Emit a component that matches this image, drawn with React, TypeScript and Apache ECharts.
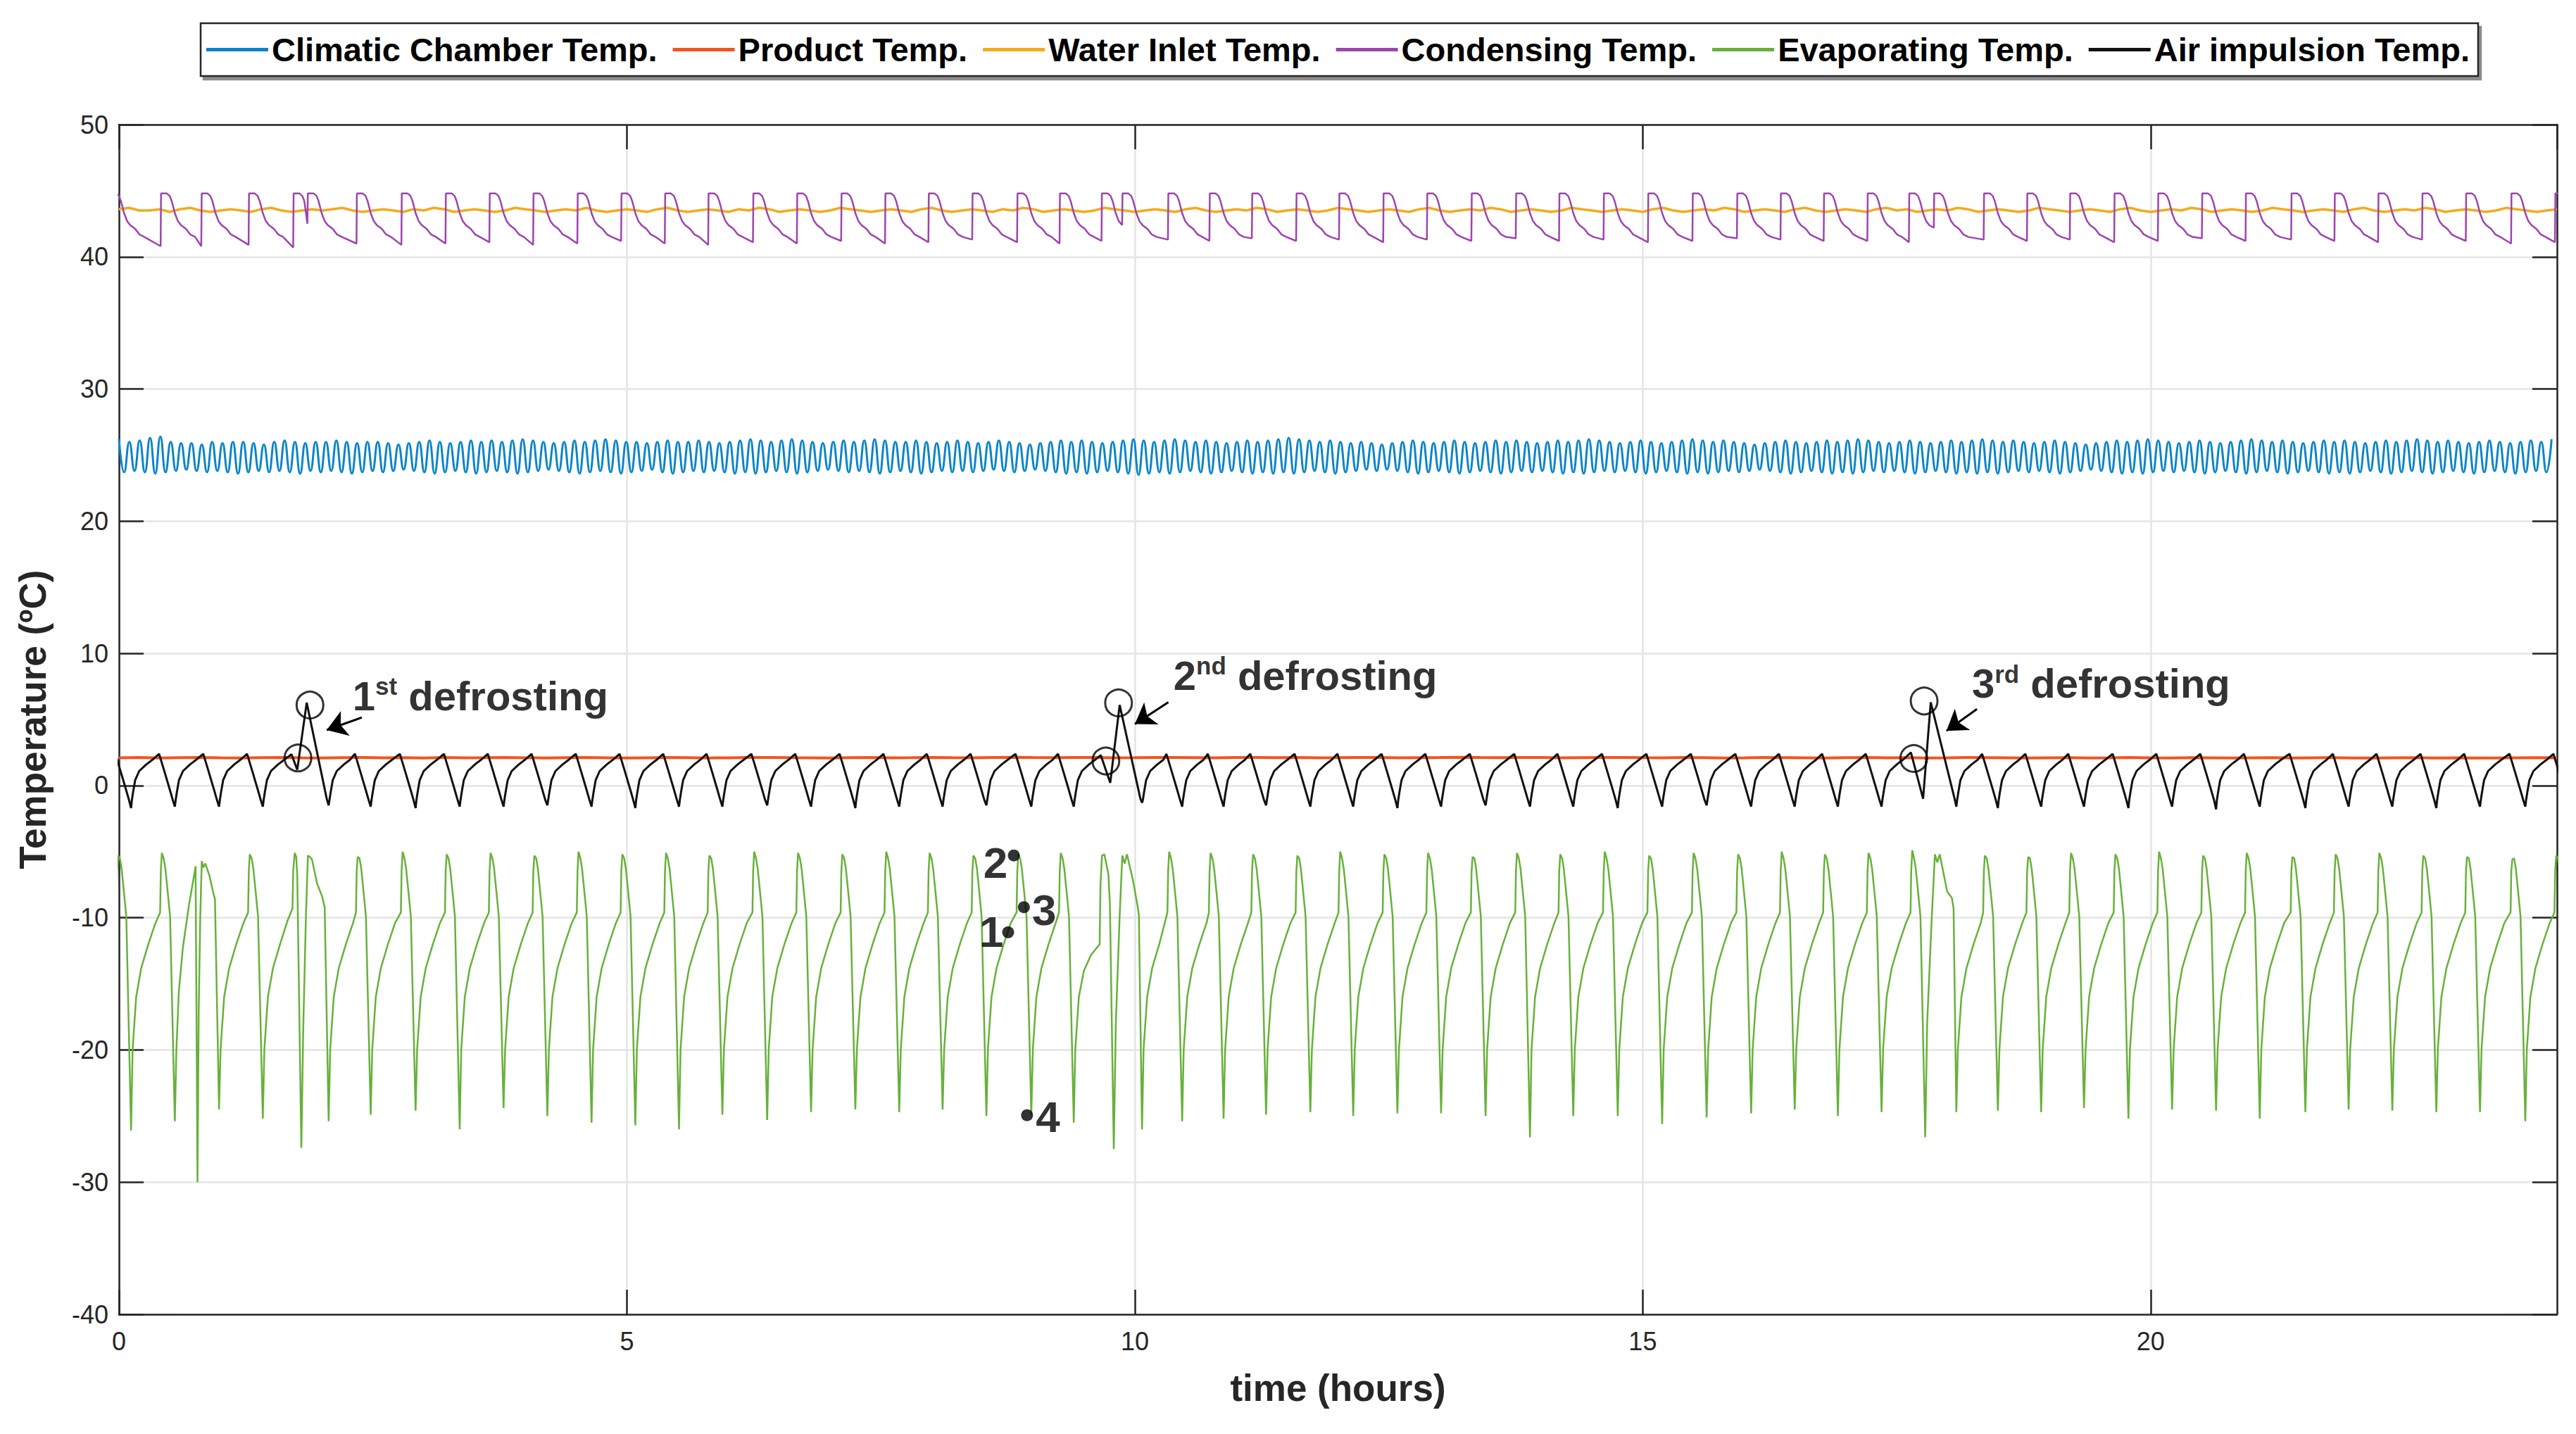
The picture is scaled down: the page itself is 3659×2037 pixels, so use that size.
import React, { useEffect, useRef } from "react";
import * as echarts from "echarts";

// ---------------- names, colours, axes ----------------
const SERIES_NAMES = [
  "Climatic Chamber Temp.",
  "Product Temp.",
  "Water Inlet Temp.",
  "Condensing Temp.",
  "Evaporating Temp.",
  "Air impulsion Temp.",
];
const SERIES_COLORS = ["#0B84C9", "#F0561E", "#F4AA1C", "#9E44AE", "#67B13A", "#111111"];
const X_MIN = 0;
const X_MAX = 24;
const X_INTERVAL = 5;
const Y_MIN = -40;
const Y_MAX = 50;
const Y_INTERVAL = 10;
const X_TITLE = "time (hours)";
const Y_TITLE = "Temperature (ºC)";

// ---------------- Climatic chamber (fast oscillation) ----------------
const CHAMBER_PERIOD = 0.1019; // hours
const CHAMBER_PEAKS = [
  26.2,26.0,26.1,26.3,26.4,26.0,25.9,25.9,25.8,26.0,25.9,26.0,26.0,25.9,25.8,26.0,26.1,26.0,25.9,26.0,
  26.0,26.1,26.0,25.9,26.0,26.0,25.9,25.8,25.9,26.0,26.1,26.0,25.9,26.0,26.1,26.0,26.1,26.0,26.1,26.2,
  26.1,26.0,25.9,26.0,26.1,26.0,26.1,26.2,26.1,26.0,26.0,25.9,26.0,26.1,26.0,26.0,26.1,26.0,25.9,26.0,
  26.1,26.2,26.1,26.0,26.1,26.2,26.1,26.0,25.9,26.0,26.1,26.0,26.1,26.2,26.1,26.0,26.0,26.1,26.0,25.9,
  26.0,26.1,26.0,25.9,26.0,26.1,26.0,25.9,25.8,25.9,26.0,26.1,26.0,26.1,26.0,25.9,26.0,26.1,26.2,26.1,
  26.0,26.1,26.2,26.1,26.0,26.1,26.0,25.9,26.0,26.1,26.0,26.1,26.2,26.3,26.2,26.1,26.0,26.1,26.0,25.9,
  26.0,25.9,25.8,25.9,26.0,26.1,26.0,25.9,26.0,26.1,26.0,25.9,26.0,26.1,26.0,26.1,26.0,25.9,26.0,26.1,
  26.0,26.1,26.2,26.1,26.0,25.9,26.0,26.1,26.0,25.9,26.0,26.1,26.2,26.1,26.0,26.1,26.0,25.9,25.8,25.9,
  26.0,26.1,26.0,25.9,26.0,26.1,26.0,26.1,26.2,26.1,26.0,25.9,26.0,26.1,26.0,25.9,26.0,26.1,26.0,26.1,
  26.2,26.1,26.0,26.1,26.0,25.9,26.0,26.1,26.0,25.9,25.8,25.9,26.0,26.1,26.0,26.1,26.2,26.1,26.0,25.9,
  26.0,26.1,26.0,25.9,26.0,26.1,26.2,26.1,26.0,26.1,26.0,25.9,26.0,26.1,26.0,26.1,26.0,25.9,26.0,26.1,
  26.0,26.1,26.2,26.1,26.0,26.1,26.0,25.9,26.0,26.1,26.0,25.9,26.0,26.1,26.0,26.2,
];
const CHAMBER_TROUGHS = [
  23.7,23.8,23.7,23.6,23.7,23.8,23.9,23.8,23.7,23.8,23.7,23.6,23.7,23.8,23.7,23.8,23.7,23.6,23.8,23.7,
  23.8,23.7,23.6,23.7,23.8,23.7,23.8,23.9,23.8,23.7,23.6,23.7,23.8,23.7,23.6,23.7,23.8,23.7,23.6,23.7,
  23.8,23.9,23.8,23.7,23.6,23.7,23.8,23.7,23.6,23.7,23.8,23.9,23.7,23.6,23.7,23.8,23.7,23.8,23.7,23.6,
  23.7,23.6,23.7,23.8,23.7,23.6,23.7,23.8,23.9,23.8,23.7,23.8,23.7,23.6,23.7,23.8,23.7,23.6,23.7,23.8,
  23.7,23.8,23.7,23.8,23.9,23.8,23.7,23.8,23.9,23.8,23.7,23.6,23.7,23.6,23.7,23.8,23.7,23.6,23.5,23.6,
  23.7,23.6,23.7,23.8,23.7,23.6,23.7,23.8,23.7,23.6,23.7,23.6,23.7,23.6,23.7,23.8,23.7,23.6,23.7,23.8,
  23.9,23.8,23.9,23.8,23.7,23.6,23.7,23.8,23.7,23.6,23.7,23.8,23.7,23.6,23.7,23.8,23.7,23.8,23.7,23.6,
  23.7,23.6,23.7,23.8,23.7,23.8,23.7,23.6,23.7,23.8,23.7,23.6,23.7,23.6,23.7,23.8,23.7,23.8,23.9,23.8,
  23.7,23.6,23.7,23.8,23.7,23.6,23.7,23.6,23.7,23.8,23.7,23.8,23.7,23.6,23.7,23.8,23.7,23.6,23.7,23.6,
  23.7,23.6,23.7,23.8,23.7,23.8,23.7,23.6,23.7,23.8,23.9,23.8,23.7,23.6,23.7,23.6,23.7,23.8,23.7,23.8,
  23.7,23.6,23.7,23.8,23.7,23.6,23.7,23.8,23.7,23.6,23.7,23.8,23.7,23.6,23.7,23.6,23.7,23.8,23.7,23.6,
  23.7,23.8,23.7,23.6,23.7,23.8,23.7,23.6,23.7,23.8,23.7,23.6,23.7,23.8,23.7,
];

// ---------------- Product temperature (sampled every 0.2 h) ----------------
const PRODUCT_DT = 0.2;
const PRODUCT_VALUES = [
  2.10,2.12,2.09,2.11,2.13,2.10,2.08,2.11,2.12,2.10,2.09,2.11,2.13,2.10,2.11,2.09,2.12,2.10,2.11,2.13,
  2.10,2.09,2.11,2.12,2.10,2.08,2.10,2.12,2.11,2.09,2.10,2.12,2.13,2.11,2.10,2.09,2.11,2.12,2.10,2.11,
  2.13,2.11,2.10,2.12,2.14,2.12,2.11,2.13,2.12,2.10,2.11,2.13,2.12,2.11,2.10,2.12,2.13,2.11,2.12,2.10,
  2.11,2.13,2.12,2.10,2.11,2.12,2.14,2.12,2.11,2.13,2.12,2.10,2.11,2.12,2.13,2.11,2.10,2.12,2.11,2.09,
  2.10,2.12,2.11,2.10,2.09,2.11,2.12,2.10,2.11,2.09,2.10,2.12,2.11,2.10,2.08,2.10,2.11,2.09,2.10,2.12,
  2.10,2.09,2.11,2.10,2.08,2.10,2.11,2.09,2.10,2.11,2.09,2.08,2.10,2.11,2.09,2.10,2.08,2.09,2.10,2.11,
  2.10,
];

// ---------------- Water inlet temperature (sampled every 0.1 h) ----------------
const WATER_DT = 0.1;
const WATER_VALUES = [
  43.6,43.7,43.5,43.5,43.6,43.4,43.6,43.7,43.5,43.4,43.5,43.6,43.5,43.4,43.6,43.7,43.5,43.4,43.5,43.6,
  43.5,43.6,43.7,43.5,43.4,43.5,43.6,43.5,43.4,43.6,43.5,43.7,43.6,43.4,43.5,43.6,43.5,43.4,43.5,43.7,
  43.6,43.5,43.4,43.5,43.6,43.5,43.7,43.5,43.4,43.5,43.6,43.5,43.4,43.6,43.7,43.5,43.4,43.5,43.6,43.5,
  43.4,43.6,43.5,43.7,43.6,43.4,43.5,43.6,43.5,43.4,43.5,43.7,43.6,43.5,43.4,43.5,43.6,43.5,43.4,43.6,
  43.7,43.5,43.4,43.5,43.6,43.5,43.4,43.6,43.5,43.7,43.6,43.4,43.5,43.6,43.5,43.4,43.5,43.7,43.6,43.5,
  43.4,43.5,43.6,43.5,43.4,43.6,43.7,43.5,43.4,43.5,43.6,43.5,43.7,43.6,43.4,43.5,43.6,43.5,43.4,43.5,
  43.7,43.6,43.5,43.4,43.5,43.6,43.5,43.4,43.6,43.7,43.5,43.4,43.5,43.6,43.5,43.7,43.6,43.4,43.5,43.6,
  43.5,43.4,43.5,43.7,43.6,43.5,43.4,43.5,43.6,43.5,43.4,43.6,43.7,43.5,43.4,43.5,43.6,43.5,43.7,43.6,
  43.4,43.5,43.6,43.5,43.4,43.6,43.7,43.5,43.4,43.5,43.6,43.5,43.4,43.6,43.7,43.5,43.6,43.4,43.5,43.6,
  43.5,43.7,43.6,43.4,43.5,43.6,43.5,43.4,43.5,43.7,43.6,43.5,43.4,43.5,43.6,43.5,43.4,43.6,43.7,43.5,
  43.4,43.5,43.6,43.5,43.7,43.6,43.4,43.5,43.6,43.5,43.4,43.5,43.7,43.6,43.5,43.4,43.5,43.6,43.5,43.4,
  43.6,43.7,43.5,43.4,43.5,43.6,43.5,43.7,43.6,43.4,43.5,43.6,43.5,43.4,43.5,43.7,43.6,43.5,43.4,43.5,
  43.6,
];

// ---------------- Evaporating temperature ----------------
// trough instants (h) and trough values (ºC) (first and last lie outside the axis)
const EVAP_TROUGH_T = [
  -0.311, 0.119, 0.55, 0.773, 0.985, 1.416, 1.795, 2.064, 2.478, 2.92,
  3.354, 3.786, 4.217, 4.652, 5.083, 5.513, 5.94, 6.381, 6.813, 7.249,
  7.681, 8.108, 8.539, 8.981, 9.399, 9.793, 10.071, 10.466, 10.874, 11.292,
  11.728, 12.15, 12.585, 13.015, 13.453, 13.89, 14.316, 14.754, 15.191, 15.629,
  16.067, 16.496, 16.921, 17.351, 17.781, 18.087, 18.496, 18.922, 19.344, 19.781,
  20.211, 20.644, 21.074, 21.523, 21.949, 22.379, 22.812, 23.242, 23.688, 24.12,
];
const EVAP_TROUGH_V = [
  -25.0, -26.1, -25.4, -30.0, -24.5, -25.2, -27.4, -25.4, -24.9, -24.6,
  -26.0, -24.4, -25.0, -25.5, -25.7, -26.0, -24.9, -25.3, -24.7, -24.5,
  -24.7, -24.5, -25.0, -24.9, -25.5, -27.5, -26.0, -25.4, -25.2, -24.9,
  -24.7, -25.0, -24.8, -24.8, -25.0, -26.6, -25.0, -25.0, -25.6, -25.1,
  -24.8, -24.5, -25.0, -24.7, -26.6, -24.7, -24.6, -24.7, -24.4, -25.2,
  -24.5, -24.6, -25.2, -24.7, -24.5, -24.6, -24.7, -24.7, -25.4, -25.0,
];
// peak value of each cycle (cycle i runs from trough i to trough i+1)
const EVAP_PEAK_V = [
  -5.3, -5.1, -6.1, -5.7, -5.2, -5.1, -5.2, -5.4, -5.0, -5.2,
  -5.1, -5.3, -5.0, -5.2, -5.1, -5.3, -5.0, -5.1, -5.2, -5.0,
  -5.1, -5.3, -5.2, -5.1, -5.3, -5.2, -5.0, -5.1, -5.2, -5.3,
  -5.0, -5.2, -5.1, -5.4, -5.1, -5.2, -5.0, -5.3, -5.1, -5.2,
  -5.0, -5.2, -5.1, -4.9, -5.2, -5.3, -5.4, -5.1, -5.2, -5.0,
  -5.3, -5.1, -5.4, -5.2, -5.1, -5.3, -5.4, -5.6, -5.3,
];
// typical cycle: recovery after the trough (h after trough, ºC)
const EVAP_RISE = [[0.015, -20], [0.05, -16], [0.1, -13.8], [0.17, -12], [0.24, -10.4]];
// jump, peak and fall before the next trough (h before next trough, ºC); null = cycle peak
const EVAP_TOP: (number | null)[][] = [
  [-0.145, -9.6], [-0.138, -6.5], [-0.128, null], [-0.11, -5.5], [-0.093, -6.3], [-0.062, -8.7], [-0.047, -9.9],
];
// irregular cycles (after the trough at the key instant)
const EVAP_SPECIAL: Record<string, number[][]> = {
  "0.55": [[0.565, -20], [0.59, -15.5], [0.63, -12.2], [0.69, -9.0], [0.735, -7.0], [0.754, -6.1]],
  "0.773": [[0.785, -17], [0.8, -10], [0.815, -5.7], [0.83, -6.2], [0.85, -5.9], [0.89, -6.8], [0.925, -8.0], [0.945, -8.6]],
  "1.416": [[1.431, -20], [1.466, -16], [1.516, -13.8], [1.586, -12], [1.66, -10.2], [1.708, -9.3], [1.715, -6.5], [1.73, -5.1], [1.745, -5.4], [1.755, -6.8]],
  "1.795": [[1.815, -18], [1.84, -10], [1.86, -5.3], [1.88, -5.4], [1.9, -5.6], [1.95, -7.4], [2.0, -8.4], [2.025, -9.2]],
  "9.399": [[9.414, -20], [9.449, -16], [9.499, -14], [9.57, -12.8], [9.654, -12.0], [9.662, -7.5], [9.677, -5.3], [9.7, -5.2], [9.74, -6.7], [9.755, -9.0]],
  "9.793": [[9.813, -18], [9.85, -10], [9.877, -5.3], [9.9, -5.9], [9.923, -5.2], [9.98, -7.1], [10.027, -9.1], [10.04, -9.8]],
  "17.781": [[17.8, -18], [17.845, -10], [17.876, -5.2], [17.9, -5.8], [17.924, -5.2], [17.996, -8.0], [18.043, -8.5], [18.06, -9.3]],
};

// ---------------- Air impulsion temperature ----------------
const AIR_SKIP_TROUGHS = [0.773, 1.795, 9.793, 17.781];
const AIR_TROUGH_V = [
  -1.6, -1.7, -1.6, -1.6, -1.6, -1.5, -1.6, -1.7, -1.6, -1.6,
  -1.5, -1.6, -1.7, -1.6, -1.6, -1.5, -1.6, -1.7, -1.6, -1.6,
  -1.5, -1.6, -1.6, -1.3, -1.6, -1.6, -1.5, -1.6, -1.6, -1.7,
  -1.6, -1.5, -1.6, -1.6, -1.7, -1.6, -1.5, -1.6, -1.6, -1.6,
  -1.6, -1.6, -1.7, -1.6, -1.6, -1.7, -1.6, -1.8, -1.6, -1.7,
  -1.6, -1.6, -1.7, -1.6, -1.6, -1.6,
];
const AIR_PEAK = 2.4;
const AIR_RISE = [[0.008, -1.1], [0.02, -0.5], [0.04, 0.4], [0.08, 1.1], [0.15, 1.6], [0.21, 1.95]];
const AIR_TOP: (number | null)[][] = [[-0.155, null], [-0.1, 1.0], [-0.05, -0.3], [-0.02, -1.1]];
const AIR_SPECIAL: Record<string, number[][]> = {
  "1.416": [[1.424, -1.1], [1.436, -0.5], [1.456, 0.4], [1.496, 1.1], [1.566, 1.6], [1.626, 1.95], [1.698, 2.36], [1.755, 1.2], [1.848, 6.27], [2.045, -1.0]],
  "9.399": [[9.407, -1.1], [9.419, -0.5], [9.439, 0.4], [9.479, 1.1], [9.549, 1.6], [9.609, 1.95], [9.665, 2.3], [9.758, 0.2], [9.851, 6.1], [10.055, -1.0]],
  "17.351": [[17.359, -1.1], [17.371, -0.5], [17.391, 0.4], [17.431, 1.1], [17.501, 1.6], [17.561, 1.95], [17.64, 2.5], [17.76, -1.0], [17.835, 6.3], [18.07, -1.0]],
};

// ---------------- Condensing temperature ----------------
const COND_JUMP_T = [
  -0.09, 0.41, 0.81, 1.276, 1.715, 1.855, 2.338, 2.78, 3.214, 3.646,
  4.077, 4.512, 4.943, 5.373, 5.8, 6.241, 6.673, 7.109, 7.541, 7.968,
  8.399, 8.841, 9.259, 9.672, 9.875, 10.326, 10.734, 11.152, 11.588, 12.01,
  12.445, 12.875, 13.313, 13.75, 14.176, 14.614, 15.051, 15.489, 15.927, 16.356,
  16.781, 17.211, 17.62, 17.865, 18.356, 18.782, 19.204, 19.641, 20.071, 20.504,
  20.934, 21.383, 21.809, 22.239, 22.672, 23.102, 23.548, 23.98, 24.42,
];
// value reached just before each jump
const COND_LOW_V = [
  41.0, 40.8, 40.8, 40.9, 40.7, 42.5, 41.0, 40.9, 41.0, 41.1,
  40.9, 41.0, 41.2, 41.0, 40.9, 41.1, 41.0, 41.2, 41.0, 41.1,
  41.3, 41.1, 41.0, 41.2, 42.4, 41.3, 41.2, 41.4, 41.2, 41.3,
  41.1, 41.3, 41.2, 41.4, 41.2, 41.3, 41.1, 41.2, 41.4, 41.3,
  41.2, 41.2, 41.1, 42.2, 41.3, 41.2, 41.3, 41.1, 41.2, 41.4,
  41.2, 41.3, 41.2, 41.1, 41.3, 41.2, 41.0, 41.1, 41.2,
];
// typical decay after a jump (h after jump, ºC)
const COND_PROFILE = [[0.004, 44.8], [0.06, 44.8], [0.09, 44.6], [0.11, 44.2], [0.14, 43.3], [0.17, 42.7], [0.2, 42.4], [0.25, 42.1], [0.29, 41.7], [0.34, 41.5]];

// ---------------- annotations ----------------
const DEFROST_CIRCLES = [[1.762, 2.09], [1.88, 6.09], [9.715, 1.86], [9.84, 6.25], [17.668, 2.05], [17.77, 6.4]];
const DEFROST_ARROWS = [
  [[2.39, 5.15], [2.045, 4.2]],
  [[10.33, 6.3], [10.0, 4.65]],
  [[18.29, 5.79], [17.99, 4.14]],
];
const DEFROST_LABEL_POS = [[2.3, 6.8], [10.38, 8.35], [18.24, 7.73]];
const DEFROST_LABEL_NUM = ["1", "2", "3"];
const DEFROST_LABEL_SUP = ["st", "nd", "rd"];
const DEFROST_LABEL_WORD = " defrosting";
const POINT_DOTS = [[8.753, -11.1], [8.809, -5.29], [8.908, -9.2], [8.939, -24.94]];
const POINT_LABEL_POS = [[8.589, -11.03], [8.629, -5.86], [9.108, -9.43], [9.145, -25.06]];
const POINT_LABELS = ["1", "2", "3", "4"];

// ---------------- builders (compose the readings above) ----------------
function chamberData() {
  const pts: number[][] = [];
  for (let k = 0; k < CHAMBER_PEAKS.length; k++) {
    pts.push([k * CHAMBER_PERIOD, CHAMBER_PEAKS[k]]);
    if (k < CHAMBER_TROUGHS.length) pts.push([(k + 0.5) * CHAMBER_PERIOD, CHAMBER_TROUGHS[k]]);
  }
  return pts;
}
function sampled(values: number[], dt: number) {
  return values.map((v, i) => [i * dt, v]);
}
function evapData() {
  const pts: number[][] = [];
  for (let i = 0; i < EVAP_TROUGH_T.length; i++) {
    const t = EVAP_TROUGH_T[i];
    pts.push([t, EVAP_TROUGH_V[i]]);
    if (i === EVAP_TROUGH_T.length - 1) break;
    const next = EVAP_TROUGH_T[i + 1];
    const sp = EVAP_SPECIAL[String(t)];
    if (sp) {
      sp.forEach((p) => pts.push(p));
      continue;
    }
    EVAP_RISE.forEach(([dt, v]) => {
      if (t + dt < next - 0.16) pts.push([t + dt, v]);
    });
    EVAP_TOP.forEach(([dt, v]) => pts.push([next + (dt as number), v === null ? EVAP_PEAK_V[i] : (v as number)]));
  }
  return pts;
}
function airData() {
  const troughs = EVAP_TROUGH_T.filter((t) => AIR_SKIP_TROUGHS.indexOf(t) < 0);
  const pts: number[][] = [];
  for (let i = 0; i < troughs.length; i++) {
    const t = troughs[i];
    pts.push([t, AIR_TROUGH_V[i]]);
    if (i === troughs.length - 1) break;
    const next = troughs[i + 1];
    const sp = AIR_SPECIAL[String(t)];
    if (sp) {
      sp.forEach((p) => pts.push(p));
      continue;
    }
    AIR_RISE.forEach(([dt, v]) => {
      if (t + dt < next - 0.17) pts.push([t + dt, v]);
    });
    AIR_TOP.forEach(([dt, v]) => pts.push([next + (dt as number), v === null ? AIR_PEAK : (v as number)]));
  }
  return pts;
}
function condData() {
  const pts: number[][] = [];
  for (let j = 0; j < COND_JUMP_T.length; j++) {
    const J = COND_JUMP_T[j];
    pts.push([J, COND_LOW_V[j]]);
    if (j === COND_JUMP_T.length - 1) break;
    const next = COND_JUMP_T[j + 1];
    COND_PROFILE.forEach(([dt, v]) => {
      if (J + dt < next - 0.02) pts.push([J + dt, v]);
    });
  }
  return pts;
}

// ---------------- chart ----------------
const BOLD_FONT = '"Liberation Sans", Arial, Helvetica, sans-serif';
const REGULAR = '"Liberation Sans", Arial, Helvetica, sans-serif';
const AXIS_COLOR = "#262626";

function buildOption() {
  const axisLine = { show: true, onZero: false, lineStyle: { color: AXIS_COLOR, width: 2.5 } };
  const axisTick = { show: true, inside: true, length: 35, lineStyle: { color: AXIS_COLOR, width: 2.5 } };
  const splitLine = { show: true, lineStyle: { color: "#e4e4e4", width: 2.5 } };
  const lineSeries = (idx: number, data: number[][], width: number, extra: any = {}) => ({
    name: SERIES_NAMES[idx],
    type: "line",
    data,
    symbol: "none",
    showSymbol: false,
    silent: true,
    clip: true,
    color: SERIES_COLORS[idx],
    lineStyle: { color: SERIES_COLORS[idx], width },
    emphasis: { disabled: true },
    z: 2 + idx,
    ...extra,
  });
  return {
    animation: false,
    backgroundColor: "#ffffff",
    textStyle: { fontFamily: REGULAR },
    grid: { left: 169, right: 27, top: 177, bottom: 170, containLabel: false },
    legend: {
      data: SERIES_NAMES,
      left: 285,
      top: 33,
      orient: "horizontal",
      icon: "rect",
      itemWidth: 88,
      itemHeight: 5,
      itemGap: 22,
      padding: [14, 12, 14, 8],
      backgroundColor: "#ffffff",
      borderColor: AXIS_COLOR,
      borderWidth: 2.5,
      shadowColor: "rgba(0,0,0,0.45)",
      shadowOffsetX: 4,
      shadowOffsetY: 5,
      shadowBlur: 0,
      selectedMode: false,
      textStyle: { fontFamily: BOLD_FONT, fontWeight: "bold", fontSize: 47, color: "#000" },
    },
    xAxis: [
      {
        type: "value",
        min: X_MIN,
        max: X_MAX,
        interval: X_INTERVAL,
        position: "bottom",
        name: X_TITLE,
        nameLocation: "middle",
        nameGap: 78,
        nameTextStyle: { fontFamily: BOLD_FONT, fontWeight: "bold", fontSize: 53, color: AXIS_COLOR },
        axisLine,
        axisTick,
        axisLabel: { show: true, fontSize: 36, color: AXIS_COLOR, margin: 20, showMaxLabel: false, fontFamily: REGULAR },
        splitLine,
      },
      {
        type: "value",
        min: X_MIN,
        max: X_MAX,
        interval: X_INTERVAL,
        position: "top",
        axisLine,
        axisTick,
        axisLabel: { show: false },
        splitLine: { show: false },
      },
    ],
    yAxis: [
      {
        type: "value",
        min: Y_MIN,
        max: Y_MAX,
        interval: Y_INTERVAL,
        position: "left",
        name: Y_TITLE,
        nameLocation: "middle",
        nameGap: 96,
        nameTextStyle: { fontFamily: BOLD_FONT, fontWeight: "bold", fontSize: 53, color: AXIS_COLOR },
        axisLine,
        axisTick,
        axisLabel: { show: true, fontSize: 36, color: AXIS_COLOR, margin: 15, fontFamily: REGULAR },
        splitLine,
      },
      {
        type: "value",
        min: Y_MIN,
        max: Y_MAX,
        interval: Y_INTERVAL,
        position: "right",
        axisLine,
        axisTick,
        axisLabel: { show: false },
        splitLine: { show: false },
      },
    ],
    series: [
      lineSeries(0, chamberData(), 3, { smooth: 0.5 }),
      lineSeries(1, sampled(PRODUCT_VALUES, PRODUCT_DT), 4),
      lineSeries(2, sampled(WATER_VALUES, WATER_DT), 3.5),
      lineSeries(3, condData(), 2.5),
      lineSeries(4, evapData(), 2.5),
      lineSeries(5, airData(), 3),
      {
        name: "defrostArrows",
        type: "lines",
        coordinateSystem: "cartesian2d",
        silent: true,
        z: 20,
        symbol: ["none", "arrow"],
        symbolSize: 28,
        lineStyle: { color: "#000", width: 3, opacity: 1, curveness: 0 },
        data: DEFROST_ARROWS.map((c) => ({ coords: c })),
      },
      {
        name: "defrostCircles",
        type: "scatter",
        silent: true,
        z: 21,
        symbol: "circle",
        symbolSize: 38,
        itemStyle: { color: "rgba(0,0,0,0)", borderColor: "#000", borderWidth: 3 },
        data: DEFROST_CIRCLES,
      },
      {
        name: "defrostLabels",
        type: "scatter",
        silent: true,
        z: 22,
        symbolSize: 0,
        data: DEFROST_LABEL_POS,
        label: {
          show: true,
          position: "right",
          distance: 0,
          formatter: (p: any) =>
            `{n|${DEFROST_LABEL_NUM[p.dataIndex]}}{s|${DEFROST_LABEL_SUP[p.dataIndex]}}{n|${DEFROST_LABEL_WORD}}`,
          rich: {
            n: { fontFamily: BOLD_FONT, fontWeight: "bold", fontSize: 58, color: "#000", lineHeight: 62 },
            s: { fontFamily: BOLD_FONT, fontWeight: "bold", fontSize: 35, color: "#000", lineHeight: 34, verticalAlign: "top" },
          },
        },
      },
      {
        name: "pointDots",
        type: "scatter",
        silent: true,
        z: 22,
        symbol: "circle",
        symbolSize: 17,
        itemStyle: { color: "#000" },
        data: POINT_DOTS,
      },
      {
        name: "pointLabels",
        type: "scatter",
        silent: true,
        z: 22,
        symbolSize: 0,
        data: POINT_LABEL_POS,
        label: {
          show: true,
          position: "inside",
          formatter: (p: any) => POINT_LABELS[p.dataIndex],
          fontFamily: BOLD_FONT,
          fontWeight: "bold",
          fontSize: 62,
          color: "#000",
        },
      },
    ],
  };
}

export default function App() {
  const ref = useRef<HTMLDivElement>(null);
  useEffect(() => {
    if (!ref.current) return;
    const chart = echarts.init(ref.current, null, { renderer: "svg" });
    chart.setOption(buildOption() as any);
    return () => chart.dispose();
  }, []);
  return (
    <div
      ref={ref}
      style={{ position: "absolute", left: 0, top: 0, width: 3659, height: 2037, background: "#fff" }}
    />
  );
}
